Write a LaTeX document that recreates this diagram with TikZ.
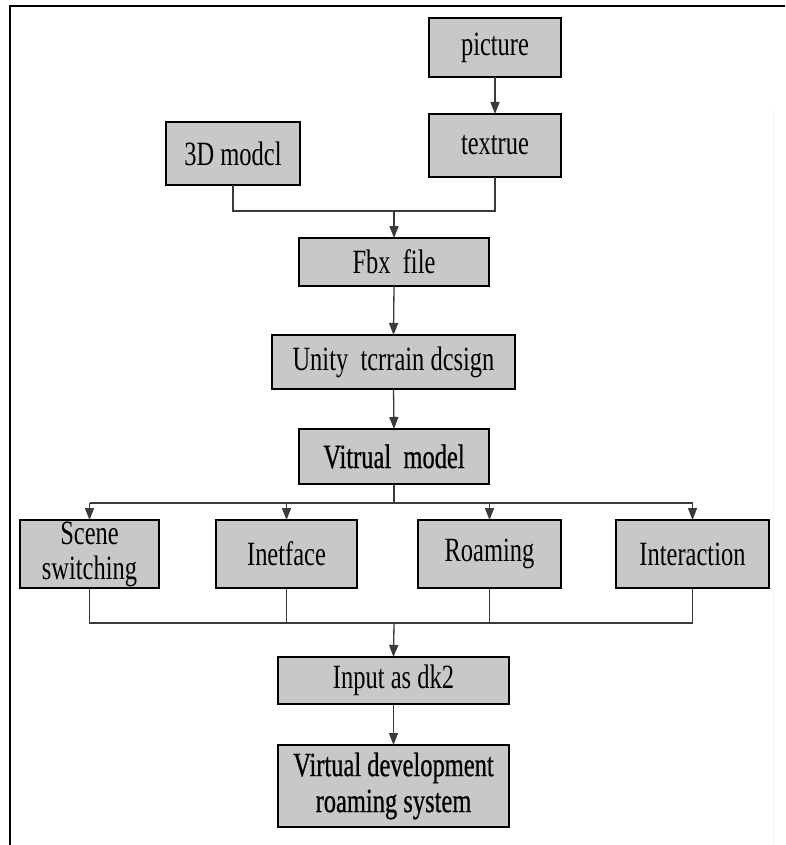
\documentclass[tikz,border=0pt]{standalone}
\usepackage{fontspec}
\setmainfont[FakeStretch=0.72]{Liberation Serif}
\newfontfamily\heavyfont[FakeStretch=0.72,FakeBold=0.6]{Liberation Serif}
\usetikzlibrary{arrows.meta}
\begin{document}
\begin{tikzpicture}[x=1pt,y=-1pt,
  box/.style={draw=black,line width=2.4pt,fill=boxgray,inner sep=0pt,outer sep=0pt,
    anchor=north west,align=center,font=\fontsize{34}{36}\selectfont},
  link/.style={draw=linegray,line width=1.3pt},
  arr/.style={link,-{Triangle[length=12pt,width=9pt]}}]
\definecolor{boxgray}{HTML}{C8C8C8}
\definecolor{linegray}{HTML}{3A3A3A}
\useasboundingbox (0,0) rectangle (785,845);
\fill[white] (0,0) rectangle (785,845);
% frame
\draw[line width=2.6pt] (10,845) -- (10,6) -- (785,6);
\draw[black!4,line width=0.8pt] (773,110) -- (773,845);
% boxes
\node[box,minimum width=132pt,minimum height=59pt] (pic) at (429,18) {picture};
\node[box,minimum width=132pt,minimum height=63pt] (tex) at (429,114) {textrue};
\node[box,minimum width=134pt,minimum height=63pt] (mod) at (166,122) {3D modcl};
\node[box,minimum width=190pt,minimum height=48pt] (fbx) at (299,238) {Fbx\ \ file};
\node[box,minimum width=243pt,minimum height=54pt] (uni) at (272,335) {Unity\ \ tcrrain dcsign};
\node[box,minimum width=190pt,minimum height=55pt] (vir) at (299,429) {\heavyfont Vitrual\ \ model};
\node[box,minimum width=139pt,minimum height=68pt] (sce) at (20,520) {Scene\\[-1pt]switching};
\node[box,minimum width=141pt,minimum height=68pt] (ine) at (216,520) {Inetface};
\node[box,minimum width=143pt,minimum height=68pt] (roa) at (418,520) {Roaming};
\node[box,minimum width=153pt,minimum height=68pt] (int) at (616,520) {Interaction};
\node[box,minimum width=231pt,minimum height=47pt] (inp) at (278,657) {Input as dk2};
\node[box,minimum width=231pt,minimum height=82pt] (sys) at (278,745) {\heavyfont Virtual development\\\heavyfont roaming system};
% junctions
\coordinate (j1) at (394,211);
\coordinate (j2) at (394,503);
\coordinate (j3) at (394,623);
% connectors
\draw[arr] (pic.south) -- (tex.north);
\draw[link] (mod.south) |- (j1);
\draw[link] (tex.south) |- (j1);
\draw[arr] (j1) -- (fbx.north);
\draw[arr] (fbx.south) -- (uni.north);
\draw[arr] (uni.south) -- (vir.north);
\draw[link] (vir.south) -- (j2);
\draw[link] (sce.north |- j2) -- (int.north |- j2);
\draw[arr] (sce.north |- j2) -- (sce.north);
\draw[arr] (ine.north |- j2) -- (ine.north);
\draw[arr] (roa.north |- j2) -- (roa.north);
\draw[arr] (int.north |- j2) -- (int.north);
\draw[link] (sce.south) -- (sce.south |- j3) -- (int.south |- j3) -- (int.south);
\draw[link] (ine.south) -- (ine.south |- j3);
\draw[link] (roa.south) -- (roa.south |- j3);
\draw[arr] (j3) -- (inp.north);
\draw[arr] (inp.south) -- (sys.north);
\end{tikzpicture}
\end{document}
